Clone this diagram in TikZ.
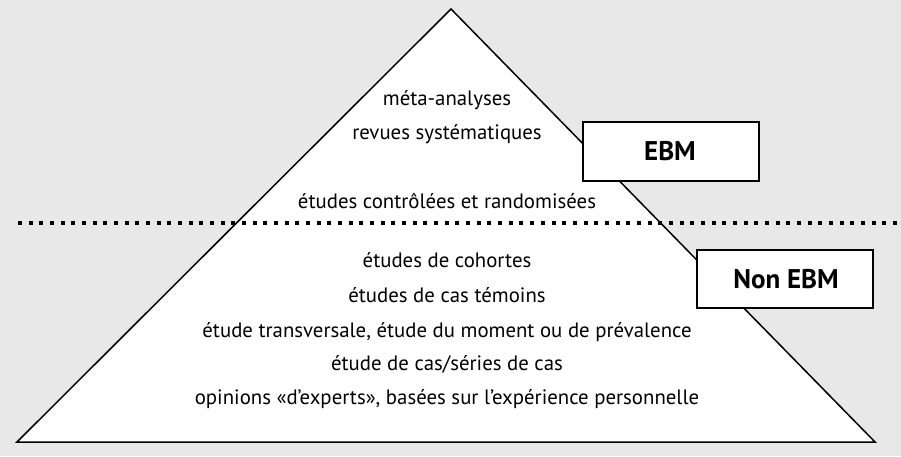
\documentclass[tikz,border=0pt]{standalone}
\usepackage{fontspec}
\setmainfont{PT Sans}
\definecolor{bg}{HTML}{E8E8E8}
\begin{document}
\begin{tikzpicture}[x=1pt,y=-1pt,
  txt/.style={anchor=base,font=\fontsize{20.8}{24}\selectfont,inner sep=0pt},
  lbl/.style={anchor=base,font=\fontsize{27}{30}\selectfont\bfseries,inner sep=0pt},
  boxstyle/.style={draw=black,fill=white,line width=1.5pt},
  edge/.style={draw=black,line width=1.5pt,line join=miter}]
\fill[bg] (0,0) rectangle (901,456);
\useasboundingbox (0,0) rectangle (901,456);
\coordinate (apex) at (451,9);
\coordinate (bl) at (17,442);
\coordinate (br) at (875,442);
\filldraw[edge,fill=white] (bl) -- (apex) -- (br) -- cycle;
\coordinate (dl) at (18,223);
\coordinate (dr) at (897,223);
\draw[line width=4pt,dash pattern=on 4pt off 6.67pt] (dl) -- (dr);
\node[boxstyle,minimum width=176pt,minimum height=59pt,inner sep=0pt] (ebmbox) at (671,151.5) {};
\node[boxstyle,minimum width=176pt,minimum height=58pt,inner sep=0pt] (nonbox) at (785,279) {};
\node[lbl] (ebm) at (670,160) {EBM};
\node[lbl] (non) at (786,288) {Non EBM};
\node[txt] (t1) at (447,105) {méta-analyses};
\node[txt] (t2) at (447,139) {revues systématiques};
\node[txt] (t3) at (447,208) {études contrôlées et randomisées};
\node[txt] (t4) at (447,267) {études de cohortes};
\node[txt] (t5) at (447,302) {études de cas témoins};
\node[txt] (t6) at (447,337) {étude transversale, étude du moment ou de prévalence};
\node[txt] (t7) at (447,370) {étude de cas/séries de cas};
\node[txt] (t8) at (447,404) {opinions «d’experts», basées sur l’expérience personnelle};
\end{tikzpicture}
\end{document}
